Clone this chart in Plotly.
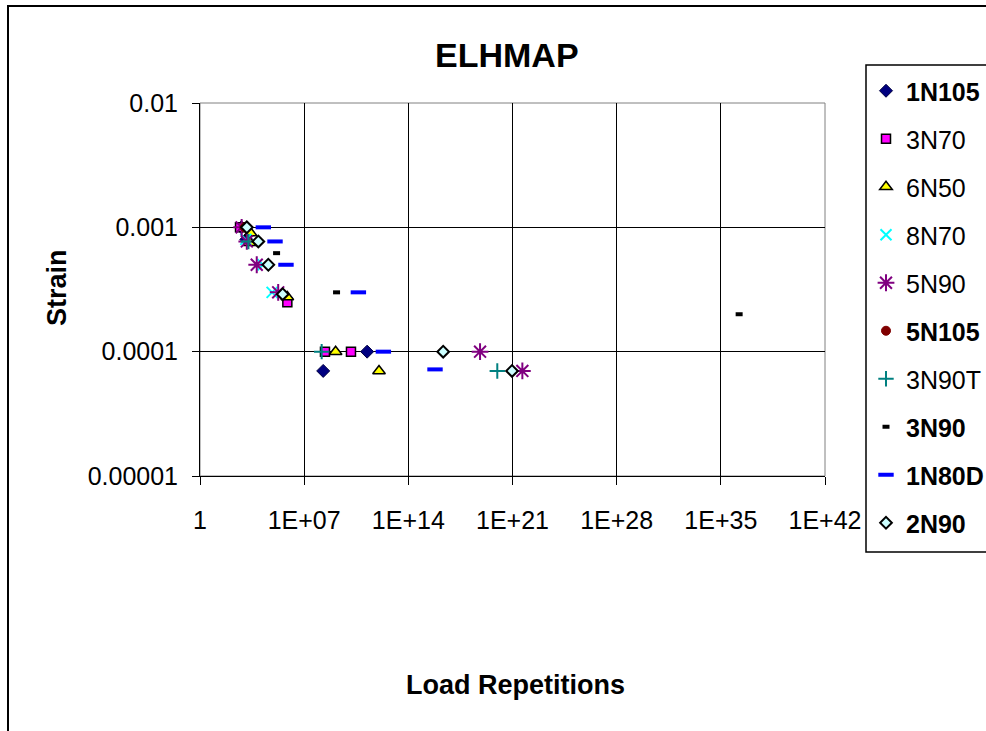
import plotly.graph_objects as go

# ---- data ----
s_1N105_x = [6.0e2, 1.3e3, 1.9e8, 1.7e11]
s_1N105_y = [1e-3, 8e-4, 7e-5, 1e-4]

s_3N70_x = [4.9e2, 7.4e5, 2.5e8, 1.4e10]
s_3N70_y = [1e-3, 2.5e-4, 1e-4, 1e-4]

s_6N50_x = [2.5e3, 2.2e3, 7.4e5, 1.3e9, 1.07e12]
s_6N50_y = [9e-4, 7.5e-4, 2.75e-4, 1e-4, 7e-5]

s_8N70_x = [1.2e3, 1.7e4, 7e4]
s_8N70_y = [8e-4, 5e-4, 3e-4]

s_5N90_x = [6.3e2, 1.4e3, 6.5e3, 1.8e5, 6.6e18, 4.6e21]
s_5N90_y = [1e-3, 7.7e-4, 5e-4, 3e-4, 1e-4, 7e-5]

s_5N105_x = [1.0e3]
s_5N105_y = [1e-3]

s_3N90T_x = [1.8e3, 1.5e8, 9.5e19]
s_3N90T_y = [7.7e-4, 1e-4, 7e-5]

s_3N90_x = [1.4e5, 1.5e9, 1.7e36]
s_3N90_y = [6.2e-4, 3e-4, 2e-4]

s_1N80D_x = [1.8e4, 1.1e5, 6e5, 4.4e10, 2.1e12, 6.2e15]
s_1N80D_y = [1e-3, 7.7e-4, 5e-4, 3e-4, 1e-4, 7.2e-5]

s_2N90_x = [1.4e3, 8.3e3, 3.9e4, 3.6e5, 2.2e16, 9.3e20]
s_2N90_y = [1e-3, 7.7e-4, 5e-4, 2.9e-4, 1e-4, 7e-5]

x_tickvals = [1, 1e7, 1e14, 1e21, 1e28, 1e35, 1e42]
x_ticktext = ["1", "1E+07", "1E+14", "1E+21", "1E+28", "1E+35", "1E+42"]
y_tickvals = [1e-5, 1e-4, 1e-3, 1e-2]
y_ticktext = ["0.00001", "0.0001", "0.001", "0.01"]

series = [
    ("<b>1N105</b>", s_1N105_x, s_1N105_y, dict(symbol="diamond", size=10, color="#000080", line=dict(color="#000040", width=1))),
    ("3N70", s_3N70_x, s_3N70_y, dict(symbol="square", size=9, color="#FF00FF", line=dict(color="#000000", width=1.5))),
    ("6N50", s_6N50_x, s_6N50_y, dict(symbol="triangle-up", size=11, color="#FFFF00", line=dict(color="#000000", width=1.5))),
    ("8N70", s_8N70_x, s_8N70_y, dict(symbol="x-thin-open", size=11, color="#00FFFF", line=dict(color="#00FFFF", width=2))),
    ("5N90", s_5N90_x, s_5N90_y, dict(symbol="asterisk-open", size=14, color="#800080", line=dict(color="#800080", width=2))),
    ("<b>5N105</b>", s_5N105_x, s_5N105_y, dict(symbol="circle", size=9, color="#800000", line=dict(color="#800000", width=1))),
    ("3N90T", s_3N90T_x, s_3N90T_y, dict(symbol="cross-thin-open", size=11, color="#008080", line=dict(color="#008080", width=2))),
    ("<b>3N90</b>", s_3N90_x, s_3N90_y, dict(symbol="line-ew-open", size=5, color="#000000", line=dict(color="#000000", width=4))),
    ("<b>1N80D</b>", s_1N80D_x, s_1N80D_y, dict(symbol="line-ew-open", size=11, color="#0000FF", line=dict(color="#0000FF", width=4))),
    ("<b>2N90</b>", s_2N90_x, s_2N90_y, dict(symbol="diamond", size=9, color="#CCFFFF", line=dict(color="#000000", width=2))),
]

fig = go.Figure()
for i, (name, xs, ys, mk) in enumerate(series):
    fig.add_trace(go.Scatter(x=xs, y=ys, mode="markers", name=name, marker=mk,
                             legendgroup="g%d" % i))

W, H = 986, 731
L, R, T, B = 200, 825, 103, 476
pw, ph = R - L, B - T

def px2x(p):
    return (p - L) / pw

def px2y(p):
    return (B - p) / ph

font_family = "Liberation Sans, Arial, sans-serif"

fig.update_layout(
    width=W, height=H,
    margin=dict(l=L, r=W - R, t=T, b=H - B, pad=0, autoexpand=False),
    paper_bgcolor="white", plot_bgcolor="white",
    font=dict(family=font_family, color="black", size=25),
    showlegend=True,
    legend=dict(x=px2x(866), xanchor="left", y=px2y(68), yanchor="top",
                bgcolor="rgba(0,0,0,0)", borderwidth=0,
                font=dict(size=25, family=font_family, color="black"),
                tracegroupgap=12.5, itemsizing="trace", maxheight=700),
    xaxis=dict(type="log", range=[0, 42], tickvals=x_tickvals, ticktext=x_ticktext,
               showgrid=True, gridcolor="#000000", gridwidth=1,
               showline=True, linecolor="#000000", linewidth=1,
               ticks="outside", ticklen=8, tickcolor="#000000",
               ticklabelstandoff=14, tickfont=dict(size=25),
               zeroline=False),
    yaxis=dict(type="log", range=[-5, -2], tickvals=y_tickvals, ticktext=y_ticktext,
               showgrid=True, gridcolor="#000000", gridwidth=1,
               showline=True, linecolor="#000000", linewidth=1,
               ticks="outside", ticklen=7, tickcolor="#000000",
               ticklabelstandoff=9, tickfont=dict(size=25),
               zeroline=False),
    shapes=[
        # outer chart frame
        dict(type="rect", xref="paper", yref="paper",
             x0=px2x(8), x1=px2x(995), y0=px2y(740), y1=px2y(6),
             line=dict(color="black", width=2), fillcolor="rgba(0,0,0,0)", layer="below"),
        # legend box
        dict(type="rect", xref="paper", yref="paper",
             x0=px2x(866), x1=px2x(995), y0=px2y(552), y1=px2y(65),
             line=dict(color="black", width=1.5), fillcolor="rgba(0,0,0,0)"),
        # plot area right/top border
        dict(type="rect", xref="paper", yref="paper", x0=0, x1=1, y0=0, y1=1,
             line=dict(color="#808080", width=1), fillcolor="rgba(0,0,0,0)", layer="below"),
    ],
    annotations=[
        dict(text="<b>ELHMAP</b>", x=px2x(507), y=px2y(55), xref="paper", yref="paper",
             showarrow=False, xanchor="center", yanchor="middle",
             font=dict(size=34, family=font_family)),
        dict(text="<b>Strain</b>", x=px2x(57), y=px2y(288), xref="paper", yref="paper",
             showarrow=False, xanchor="center", yanchor="middle", textangle=-90,
             font=dict(size=27, family=font_family)),
        dict(text="<b>Load Repetitions</b>", x=px2x(515), y=px2y(685), xref="paper", yref="paper",
             showarrow=False, xanchor="center", yanchor="middle",
             font=dict(size=27, family=font_family)),
    ],
)

fig.write_html("out.html")
